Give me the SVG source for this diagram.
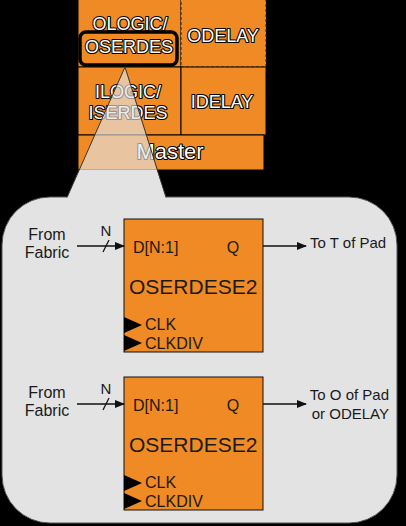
<svg xmlns="http://www.w3.org/2000/svg" width="406" height="526" viewBox="0 0 406 526">
<defs>
<style>
.cell{fill:#ef8a24;stroke:#000;stroke-width:1}
.dash{fill:#ef8a24;stroke:#222;stroke-width:1;stroke-dasharray:3,2}
.ol{font-family:"Liberation Sans",Arial,sans-serif;font-size:18px;fill:#fff;stroke:#000;stroke-width:2.2;paint-order:stroke fill;text-anchor:middle;stroke-linejoin:round}
.blk{fill:#ef8a24;stroke:#111;stroke-width:1}
.t{font-family:"Liberation Sans",Arial,sans-serif;fill:#1a1a1a}
.s16{font-size:16px}
.s15{font-size:15px}
.big{font-size:21px}
.mid{text-anchor:middle}
.end{text-anchor:end}
.wire{stroke:#111;stroke-width:1.3;fill:none}
</style>
<marker id="ah" markerWidth="10" markerHeight="8" refX="9" refY="4" orient="auto" markerUnits="userSpaceOnUse">
<path d="M0,0 L10,4 L0,8 Z" fill="#111"/>
</marker>
</defs>
<rect x="0" y="0" width="406" height="526" fill="#000"/>

<g id="fpga-tile">
<rect class="cell" x="78" y="-1" width="103" height="68"/>
<rect class="dash" x="181" y="-1" width="85" height="68"/>
<rect class="cell" x="78" y="67" width="103" height="68"/>
<rect class="cell" x="181" y="67" width="85" height="68"/>
<rect class="cell" x="78" y="135" width="186" height="35"/>
<text class="ol" x="130" y="30">OLOGIC/</text>
<text class="ol" x="129" y="53">OSERDES</text>
<text class="ol" x="223" y="42">ODELAY</text>
<text class="ol" x="128" y="98">ILOGIC/</text>
<text class="ol" x="128" y="119">ISERDES</text>
<text class="ol" x="222" y="108">IDELAY</text>
<text class="ol" x="170" y="159" style="font-size:22px">Master</text>
<rect x="80" y="32" width="97" height="33" rx="6" fill="none" stroke="#000" stroke-width="3.5"/>
</g>

<g id="callout">
<rect x="2" y="197" width="395" height="326" rx="48" ry="48" fill="#e3e3e3" stroke="#555" stroke-width="1"/>
<polygon points="79,170 157,170 167,200 66,200" fill="#e3e3e3"/>
<polygon points="125,67 157,170 79,170" fill="#e3e3e3" fill-opacity="0.65"/>
<line x1="125" y1="67" x2="67" y2="197.5" stroke="#333" stroke-width="1"/>
<line x1="125" y1="67" x2="166" y2="197.5" stroke="#333" stroke-width="1"/>
</g>

<g id="oserdes1">
<rect class="blk" x="124" y="219" width="139" height="133"/>
<text class="t s16" x="133" y="253">D[N:1]</text>
<text class="t s16 mid" x="233" y="253">Q</text>
<text class="t big" x="129" y="294">OSERDESE2</text>
<polygon points="124,317 142,325 124,333" fill="#000"/>
<polygon points="124,335 142,343 124,351" fill="#000"/>
<text class="t s16" x="145" y="330">CLK</text>
<text class="t s16" x="145" y="349">CLKDIV</text>
</g>

<g id="oserdes2">
<rect class="blk" x="124" y="377" width="139" height="133"/>
<text class="t s16" x="133" y="411">D[N:1]</text>
<text class="t s16 mid" x="233" y="411">Q</text>
<text class="t big" x="129" y="452">OSERDESE2</text>
<polygon points="124,475 142,483 124,491" fill="#000"/>
<polygon points="124,493 142,501 124,509" fill="#000"/>
<text class="t s16" x="145" y="488">CLK</text>
<text class="t s16" x="145" y="507">CLKDIV</text>
</g>

<g id="labels">
<text class="t s16 mid" x="47" y="240">From</text>
<text class="t s16 mid" x="47" y="258">Fabric</text>
<text class="t s15 mid" x="106" y="236">N</text>
<text class="t s15" x="310" y="248">To T of Pad</text>
<text class="t s16 mid" x="47" y="398">From</text>
<text class="t s16 mid" x="47" y="416">Fabric</text>
<text class="t s15 mid" x="106" y="394">N</text>
<text class="t s15 end" x="389" y="400">To O of Pad</text>
<text class="t s15 end" x="389" y="419">or ODELAY</text>
</g>

<g id="connectors">
<line class="wire" x1="77" y1="246" x2="124" y2="246" marker-end="url(#ah)"/>
<line class="wire" x1="103" y1="252" x2="109" y2="240"/>
<line class="wire" x1="263" y1="246" x2="306" y2="246" marker-end="url(#ah)"/>
<line class="wire" x1="77" y1="404" x2="124" y2="404" marker-end="url(#ah)"/>
<line class="wire" x1="103" y1="410" x2="109" y2="398"/>
<line class="wire" x1="263" y1="404" x2="306" y2="404" marker-end="url(#ah)"/>
</g>
</svg>
